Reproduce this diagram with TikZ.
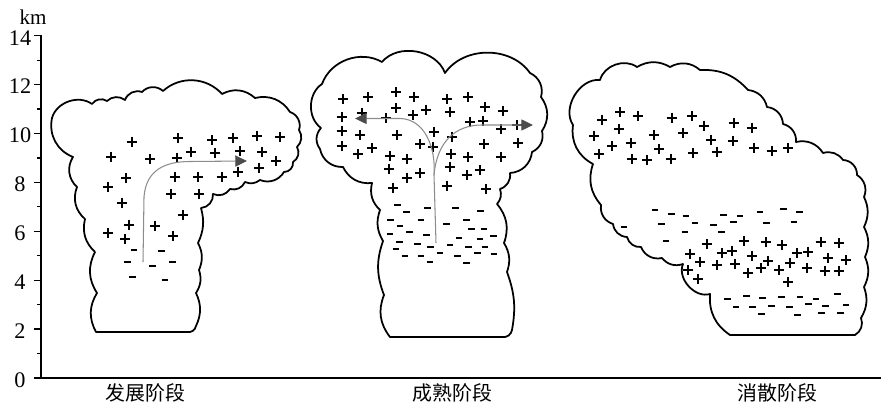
\documentclass[tikz,border=0pt]{standalone}
\usepackage{fontspec}
\setmainfont{Liberation Serif}
\newfontfamily\cjk{Noto Sans CJK SC}
\usetikzlibrary{arrows.meta}

\begin{document}
\begin{tikzpicture}[x=0.03cm,y=-0.03cm]
    \newcommand\pluss[1]{\foreach \x/\y in {#1} \draw[chp] (\x,\y) +(-5,0) -- +(5,0) +(0,-5) -- +(0,5);}
    \newcommand\moins[1]{\foreach \x/\y in {#1} \draw[chm] (\x,\y) +(-3.3,0) -- +(3.3,0);}
    \tikzstyle{nuage}=[line width=1.5pt,line join=round]
    \tikzstyle{chp}=[line width=1.7pt]
    \tikzstyle{chm}=[line width=1.4pt]
    \tikzstyle{axe}=[line width=1.1pt]
    \tikzstyle{fleche}=[draw=black!45,line width=0.9pt,-{Triangle[length=10pt,width=9.5pt,color=black!70]}]
    \tikzstyle{chiffre}=[inner sep=0pt,font=\fontsize{19}{19}\selectfont]
    \tikzstyle{etape}=[inner sep=0pt,font=\cjk\fontsize{17}{17}\selectfont]
    \useasboundingbox (0,0) rectangle (881,403);
    % axes
    \coordinate (o) at (41,378);
    \coordinate (h) at (41,35);
    \coordinate (d) at (881,378);
    \draw[axe] (h) -- (o) -- (d);
    \foreach \k in {0,2,...,14} {
      \draw[axe] (34,{378-24.45*\k}) -- (41,{378-24.45*\k});
      \node[chiffre] (n\k) at (20,{380-24.45*\k}) {\k};
    }
    \foreach \k in {1,3,...,13} \draw[axe] (37,{378-24.45*\k}) -- (41,{378-24.45*\k});
    \node[chiffre,font=\fontsize{18}{18}\selectfont] (km) at (33,17) {km};
    % nuage 1
    \draw[nuage] (96,332) \foreach \x/\y/\b in {97/293/30, 95/252/30, 85/219/30, 77/187/35, 73/157/40,
        52/118/40, 92/104/55, 107/101/45, 125/100/40, 142/92/45, 163/91/45, 222/94/45, 255/98/35,
        290/112/35, 299/130/45, 297/147/40, 293/162/45, 284/172/50, 260/180/40, 245/182/30,
        230/189/40, 213/194/40, 201/208/45, 198/243/20, 199/270/25, 196/293/25, 196/326/25, 187/332/45}
        {to[bend left=\b] (\x,\y)} -- cycle;
    % nuage 2
    \draw[nuage] (390,337) \foreach \x/\y/\b in {384/295/30, 383/241/20, 380/210/25, 372/183/30,
        343/167/35, 320/149/40, 321/128/40, 322/84/55, 382/62/50, 445/73/60, 530/73/55, 541/97/40,
        542/131/35, 532/152/40, 510/173/40, 500/189/40, 497/204/30, 504/243/30, 507/272/25,
        512/330/15, 502/337/45}
        {to[bend left=\b] (\x,\y)} -- cycle;
    % nuage 3
    \draw[nuage] (730,335) \foreach \x/\y/\b in {710/294/30, 683/264/65, 662/258/35, 641/247/40,
        627/237/40, 613/224/40, 601/205/40, 593/164/30, 573/125/35, 600/80/65, 637/67/55,
        670/67/30, 700/70/35, 748/90/25, 767/107/35, 783/124/40, 796/142/40, 823/153/35,
        843/160/35, 857/175/45, 864/197/40, 864/227/25, 865/257/25, 864/287/25, 861/318/25, 855/335/40}
        {to[bend left=\b] (\x,\y)} -- cycle;
    % charges
    \pluss{131.7/141.7, 178.3/138.3, 211.7/140, 232.7/138.3, 256.7/136, 280/136.7,
        111/156.7, 150/159.3, 176.7/157.7, 190.7/151.7, 215/153.3, 240/151, 262.3/152.3, 276/160.7,
        259/167.7, 238.3/171.7, 221.7/177.3, 198.3/177.3, 175/177.3, 126/178.3, 107.7/186.7,
        171/194, 199/194, 121.7/202.7, 183.3/215, 129/225, 155/226, 108.3/233.3, 125/239, 173.3/236}
    \moins{134/250, 161.7/250.7, 127.3/261.7, 152.7/265.7, 172.7/261.7, 132.7/276.7, 165/280}
    \pluss{343.3/99.3, 368.3/97.3, 396/92.3, 414/97.3, 446.7/99.3, 468.3/97.3,
        341.7/116.7, 361.7/112.7, 386/118.3, 396/107.7, 412.7/115, 426/110, 450/111.7, 485/106.7, 503.3/111,
        470/121.7, 483.3/121, 501/129.3, 516.7/125,
        341.7/130.7, 360/135, 396.7/135, 434/131.7, 451.7/136.7,
        341.7/146, 358.3/154.3, 371.7/148.3, 420/144.3, 433.3/146.7, 484/144, 518.3/143.3,
        390/155.7, 407.3/159, 451/154, 468.3/157.3, 501/156.7,
        389.3/169, 406.7/177.7, 420/173.3, 450/166.7, 466.7/175, 480/170,
        393.3/187.7, 446.7/185.7, 486/189}
    \moins{397.3/205, 406.7/211.7, 427.7/207.7, 455.7/208.3, 480.7/211,
        390.7/220, 421/220, 400/226, 446.7/224, 466.7/220, 471.7/229.3, 484/229.3,
        390/234, 409.3/231.7, 426.7/235, 459/237.7, 480/239.3, 493.3/235.7,
        399.3/241.7, 417.7/244.3, 430.7/247.3, 450/245, 468.3/246.7, 485/247.3,
        396/249, 405/255.7, 421/255.7, 440/253.3, 457.3/256, 477.3/252.7, 494/254,
        430/262.3, 466.7/262.7}
    \pluss{602.3/120, 620/111.7, 637.7/115.7, 671.7/117.7, 691.7/115.7, 704.3/125.7, 734/123.3, 751.7/127.7,
        594.3/136, 619/129, 654.3/135, 682.7/133.3, 710.7/140, 732.7/140.7,
        612.3/145.7, 631/143.3, 658.7/149, 717.3/151.7, 754/147.7, 771.7/150.7, 788.3/148.3,
        599/154.3, 631.7/159.3, 646.7/160, 671/159, 693.3/153.3}
    \moins{655/210, 671.7/214, 686/215.7, 723.3/215, 740/216, 760/212.3, 783.3/209.3, 799.3/211.7,
        661.7/224, 695/222.7, 713.3/225, 733.3/221.7, 766.7/222.7, 794/221.7,
        624/227.3, 685/231.7, 721.7/232.3, 666/240.7}
    \pluss{706.7/244.3, 744/240.7, 765.7/242.3, 781.7/245, 820.7/242.3, 839.3/243.3,
        690/254, 721.7/253.3, 731.7/250.7, 751.7/255.7, 796.7/253.3, 808.3/252.3, 827.7/257.7, 846/260,
        700/261.7, 717.3/265, 735/264, 768.3/260.7, 790/263.3,
        688.3/270, 760.7/268.3, 748.3/273.3, 779/270, 806.7/268.3, 825/270.7, 839.3/270.7,
        697.7/279.3, 788.3/281.7}
    \moins{727.7/299.3, 746.7/295.7, 762.3/298.3, 781.7/296.7, 800/297.3, 816/299, 837.3/294,
        736/306.7, 752.7/307.3, 771.7/306, 789.3/307.3, 808.3/304.3, 825.7/306, 846/305,
        761.7/314, 797.7/315, 821.7/312.7, 840.7/312.7}
    % courants
    \coordinate (a1) at (143,262);
    \coordinate (b1) at (144,197);
    \coordinate (c1) at (247,161);
    \draw[fleche] (a1) -- (b1) .. controls (146,170) and (165,161.5) .. (190,161.5) -- (c1);
    \coordinate (a2) at (436,243);
    \coordinate (b2) at (434,175);
    \coordinate (g2) at (355,118.5);
    \coordinate (d2) at (533,125);
    \draw[draw=black!45,line width=0.9pt] (a2) -- (b2);
    \draw[fleche] (b2) .. controls (436,148) and (425,119) .. (400,118.5) -- (g2);
    \draw[fleche] (b2) .. controls (437,142) and (455,125) .. (482,125) -- (d2);
    % etapes
    \node[etape] (e1) at (145.5,393) {发展阶段};
    \node[etape] (e2) at (452.5,393) {成熟阶段};
    \node[etape] (e3) at (777.5,393) {消散阶段};
\end{tikzpicture}
\end{document}
